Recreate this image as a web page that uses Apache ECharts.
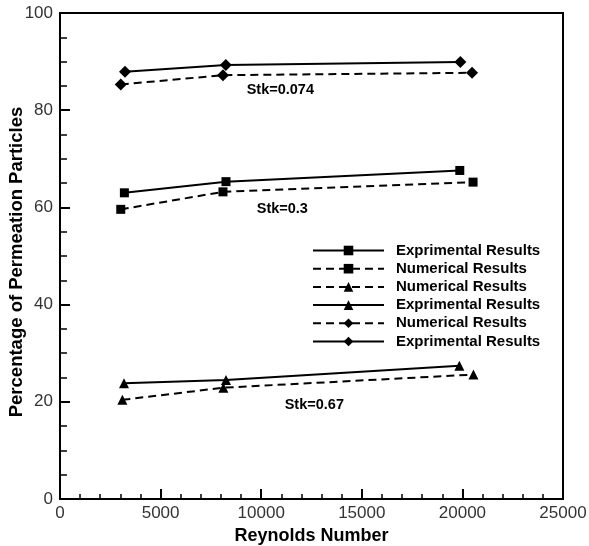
<!DOCTYPE html>
<html><head><meta charset="utf-8">
<script src="https://cdn.jsdelivr.net/npm/echarts@6/dist/echarts.min.js"></script>
<style>html,body{margin:0;padding:0;background:#fff}#c{width:589px;height:546px}</style>
</head><body><div id="c"></div>
<script>
// Reynolds numbers and percentages per series
const sqExpX = [3200, 8250, 19870];
const sqExpY = [63.0, 65.3, 67.6];
const sqNumX = [3020, 8100, 20530];
const sqNumY = [59.6, 63.2, 65.2];
const trNumX = [3100, 8120, 20550];
const trNumY = [20.4, 22.9, 25.6];
const trExpX = [3180, 8250, 19850];
const trExpY = [23.8, 24.5, 27.4];
const diNumX = [3020, 8100, 20480];
const diNumY = [85.3, 87.2, 87.7];
const diExpX = [3230, 8240, 19900];
const diExpY = [87.9, 89.3, 89.9];
const annotX = [10950, 11050, 12640];
const annotY = [84.2, 59.7, 19.3];
const annotText = ['Stk=0.074', 'Stk=0.3', 'Stk=0.67'];
const seriesNames = ['Exprimental Results', 'Numerical Results', 'Numerical Results ', 'Exprimental Results ', 'Numerical Results  ', 'Exprimental Results  '];

const zip = (xs, ys) => xs.map((x, i) => [x, ys[i]]);
const dash = [8, 5];
const font = 'Liberation Sans, Arial, sans-serif';
function mk(name, xs, ys, symbol, size, dashed) {
  return {
    name, type: 'line', data: zip(xs, ys), symbol, symbolSize: size,
    lineStyle: { color: '#000', width: 2, type: dashed ? dash : 'solid' },
    itemStyle: { color: '#000' }, z: 3
  };
}
const series = [
  mk(seriesNames[0], sqExpX, sqExpY, 'rect', 9, false),
  mk(seriesNames[1], sqNumX, sqNumY, 'rect', 9, true),
  mk(seriesNames[2], trNumX, trNumY, 'triangle', 10, true),
  mk(seriesNames[3], trExpX, trExpY, 'triangle', 10, false),
  mk(seriesNames[4], diNumX, diNumY, 'diamond', 12, true),
  mk(seriesNames[5], diExpX, diExpY, 'diamond', 12, false),
  {
    name: 'annot', type: 'scatter', symbolSize: 1, silent: true,
    itemStyle: { color: 'rgba(0,0,0,0)', opacity: 1 },
    data: annotX.map((x, i) => [x, annotY[i], annotText[i]]),
    label: { show: true, position: 'inside', formatter: p => p.data[2],
      color: '#000', fontWeight: 'bold', fontSize: 14.5, fontFamily: font, textBorderWidth: 0 }
  }
];
const chart = echarts.init(document.getElementById('c'));
chart.setOption({
  animation: false,
  backgroundColor: '#fff',
  grid: { left: 60, top: 13, right: 26, bottom: 47, show: true, borderColor: '#000', borderWidth: 2, containLabel: false, outerBoundsMode: 'none' },
  xAxis: {
    type: 'value', min: 0, max: 25000, interval: 5000,
    name: 'Reynolds Number', nameLocation: 'middle', nameGap: 28, nameMoveOverlap: false,
    nameTextStyle: { fontFamily: font, fontWeight: 'bold', fontSize: 18, color: '#000' },
    axisLine: { lineStyle: { color: '#000', width: 2 } },
    axisTick: { inside: true, length: 10, lineStyle: { color: '#000', width: 2 } },
    minorTick: { show: true, splitNumber: 5, length: 5, lineStyle: { color: '#000', width: 1.5 } },
    axisLabel: { fontFamily: font, fontSize: 17, color: '#333', margin: 6, formatter: v => String(v) },
    splitLine: { show: false }
  },
  yAxis: {
    type: 'value', min: 0, max: 100, interval: 20,
    name: 'Percentage of Permeation Particles', nameLocation: 'middle', nameGap: 34, nameMoveOverlap: false,
    nameTextStyle: { fontFamily: font, fontWeight: 'bold', fontSize: 18.5, color: '#000', padding: [0, 12, 0, 0] },
    axisLine: { lineStyle: { color: '#000', width: 2 } },
    axisTick: { inside: true, length: 10, lineStyle: { color: '#000', width: 2 } },
    minorTick: { show: true, splitNumber: 4, length: 7, lineStyle: { color: '#000', width: 1.5 } },
    axisLabel: { fontFamily: font, fontSize: 17, color: '#333', margin: 7, formatter: v => String(v) },
    splitLine: { show: false }
  },
  legend: {
    data: seriesNames, orient: 'vertical', left: 312, top: 243, padding: 0,
    itemWidth: 71, itemHeight: 12, itemGap: 3.2,
    formatter: n => n.trim(),
    textStyle: { fontFamily: font, fontWeight: 'bold', fontSize: 15, color: '#000', lineHeight: 14, padding: [0, 0, 0, 7] },
    selectedMode: false
  },
  series
});
</script></body></html>
